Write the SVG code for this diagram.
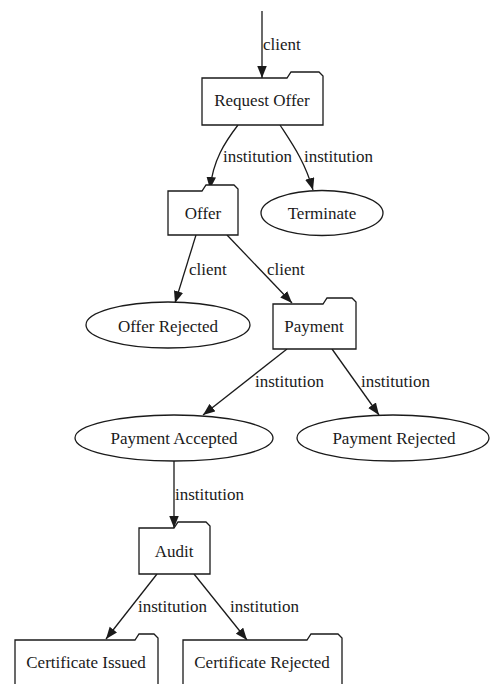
<svg xmlns="http://www.w3.org/2000/svg" width="497" height="684" viewBox="0 0 497 684" font-family="'Liberation Serif', 'DejaVu Serif', serif">
  <style>
    .shape { fill: #ffffff; stroke: #1a1a1a; stroke-width: 1.3; }
    .edge { fill: none; stroke: #1a1a1a; stroke-width: 1.3; marker-end: url(#arrow); }
    text { font-family: 'Liberation Serif', 'DejaVu Serif', serif; font-size: 17px; fill: #1a1a1a; }
    .node text { text-anchor: middle; }
  </style>
  <defs>
    <marker id="arrow" markerUnits="userSpaceOnUse" markerWidth="13" markerHeight="10" refX="12" refY="4.75" orient="auto">
      <path d="M0,0 L12,4.75 L0,9.5 Z" fill="#1a1a1a"/>
    </marker>
  </defs>
  <rect width="497" height="684" fill="#ffffff"/>

  <g id="connectors">
    <path class="edge" d="M262,11 L262,78"/>
    <text x="263" y="50">client</text>

    <path class="edge" d="M238,125 C225,142 213,160 210,189"/>
    <text x="223" y="162">institution</text>
    <path class="edge" d="M280,125 C293,145 305,162 313,190"/>
    <text x="304" y="162">institution</text>

    <path class="edge" d="M196,235 L175,303"/>
    <text x="189" y="275">client</text>
    <path class="edge" d="M227,235 L292,303"/>
    <text x="267" y="275">client</text>

    <path class="edge" d="M287,349 L203,415"/>
    <text x="255" y="387">institution</text>
    <path class="edge" d="M332,349 L379,415"/>
    <text x="361" y="387">institution</text>

    <path class="edge" d="M174,461 L174,528"/>
    <text x="175" y="500">institution</text>

    <path class="edge" d="M157,574 L106,639"/>
    <text x="138" y="612">institution</text>
    <path class="edge" d="M194,574 L247,640"/>
    <text x="230" y="612">institution</text>
  </g>

  <g id="request-offer" class="node">
    <path class="shape" d="M202,78 H287 L291,72 H319 L323,76 V125 H202 Z"/>
    <text x="262" y="106">Request Offer</text>
  </g>

  <g id="offer" class="node">
    <path class="shape" d="M168,191 H202 L206,185 H234 L238,189 V235 H168 Z"/>
    <text x="203" y="219">Offer</text>
  </g>

  <g id="terminate" class="node">
    <ellipse class="shape" cx="322" cy="213" rx="61" ry="22.5"/>
    <text x="322" y="219">Terminate</text>
  </g>

  <g id="offer-rejected" class="node">
    <ellipse class="shape" cx="168" cy="325" rx="82" ry="23"/>
    <text x="168" y="332">Offer Rejected</text>
  </g>

  <g id="payment" class="node">
    <path class="shape" d="M273,304 H323 L327,298 H352 L356,302 V349 H273 Z"/>
    <text x="314" y="332">Payment</text>
  </g>

  <g id="payment-accepted" class="node">
    <ellipse class="shape" cx="174" cy="438" rx="99" ry="23"/>
    <text x="174" y="444">Payment Accepted</text>
  </g>

  <g id="payment-rejected" class="node">
    <ellipse class="shape" cx="393" cy="438" rx="96" ry="23"/>
    <text x="394" y="444">Payment Rejected</text>
  </g>

  <g id="audit" class="node">
    <path class="shape" d="M139,528 H174 L178,522 H206 L210,526 V574 H139 Z"/>
    <text x="174" y="557">Audit</text>
  </g>

  <g id="certificate-issued" class="node">
    <path class="shape" d="M15,640 H135 L139,634 H154 L158,638 V690 H15 Z"/>
    <text x="86" y="668">Certificate Issued</text>
  </g>

  <g id="certificate-rejected" class="node">
    <path class="shape" d="M183,640 H307 L311,634 H338 L342,638 V690 H183 Z"/>
    <text x="262" y="668">Certificate Rejected</text>
  </g>
</svg>
